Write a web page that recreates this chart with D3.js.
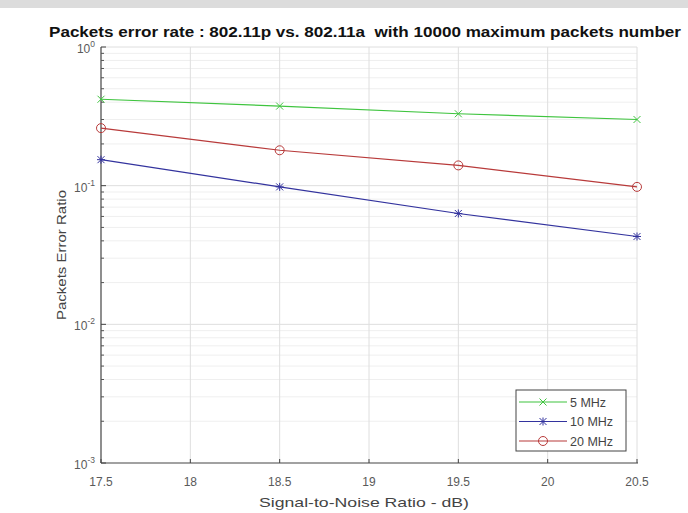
<!DOCTYPE html>
<html>
<head>
<meta charset="UTF-8">
<script src="https://d3js.org/d3.v7.min.js"></script>
<style>
  body { margin: 0; background: #fff; }
  svg { display: block; font-family: "Liberation Sans", Arial, sans-serif; }
</style>
</head>
<body>
<div id="chart"></div>
<script>
// data
const snr = [17.5, 18.5, 19.5, 20.5];
const per5 = [0.42, 0.375, 0.33, 0.30];
const per10 = [0.154, 0.098, 0.063, 0.043];
const per20 = [0.26, 0.18, 0.14, 0.098];
const seriesNames = ["5 MHz", "10 MHz", "20 MHz"];
const xTicks = [17.5, 18, 18.5, 19, 19.5, 20, 20.5];
const yTicks = [-3, -2, -1, 0];

const W = 688, H = 513;
const pLeft = 101, pRight = 637, pTop = 47, pBottom = 463;

const svg = d3.select("#chart").append("svg")
  .attr("width", W).attr("height", H);

// gray band at the very top of the screenshot
svg.append("rect").attr("x", 0).attr("y", 0).attr("width", W).attr("height", 8).attr("fill", "#dcdcdc");

const x = d3.scaleLinear().domain([17.5, 20.5]).range([pLeft, pRight]);
const y = d3.scaleLog().domain([1e-3, 1]).range([pBottom, pTop]);

// minor grid (log)
const minor = [];
for (let k = -3; k < 0; k++) {
  for (let m = 2; m <= 9; m++) minor.push(m * Math.pow(10, k));
}
svg.append("g").selectAll("line").data(minor).join("line")
  .attr("x1", pLeft).attr("x2", pRight)
  .attr("y1", d => y(d)).attr("y2", d => y(d))
  .attr("stroke", "#efefef").attr("stroke-width", 1);

// major grid
svg.append("g").selectAll("line").data(yTicks.slice(1)).join("line")
  .attr("x1", pLeft).attr("x2", pRight)
  .attr("y1", d => y(Math.pow(10, d))).attr("y2", d => y(Math.pow(10, d)))
  .attr("stroke", "#dedede");
svg.append("g").selectAll("line").data(xTicks.slice(1)).join("line")
  .attr("x1", d => x(d)).attr("x2", d => x(d))
  .attr("y1", pTop).attr("y2", pBottom)
  .attr("stroke", "#dedede");

// axes lines
svg.append("line").attr("x1", pLeft).attr("x2", pRight + 1).attr("y1", pBottom).attr("y2", pBottom)
  .attr("stroke", "#444").attr("stroke-width", 1.2);
svg.append("line").attr("x1", pLeft).attr("x2", pLeft).attr("y1", pTop).attr("y2", pBottom)
  .attr("stroke", "#444").attr("stroke-width", 1.2);

// x ticks (inward) and labels
const xg = svg.append("g");
xg.selectAll("line").data(xTicks).join("line")
  .attr("x1", d => x(d)).attr("x2", d => x(d))
  .attr("y1", pBottom).attr("y2", pBottom - 4)
  .attr("stroke", "#444");
xg.selectAll("text").data(xTicks).join("text")
  .attr("x", d => x(d)).attr("y", pBottom + 23)
  .attr("text-anchor", "middle").attr("font-size", 12).attr("fill", "#5a5a5a")
  .text(d => d3.format("")(d));

// y ticks
const yg = svg.append("g");
yg.selectAll("line.maj").data(yTicks).join("line").attr("class", "maj")
  .attr("x1", pLeft).attr("x2", pLeft + 5)
  .attr("y1", d => y(Math.pow(10, d))).attr("y2", d => y(Math.pow(10, d)))
  .attr("stroke", "#444");
yg.selectAll("line.min").data(minor).join("line").attr("class", "min")
  .attr("x1", pLeft).attr("x2", pLeft + 3)
  .attr("y1", d => y(d)).attr("y2", d => y(d))
  .attr("stroke", "#555");
const yl = yg.selectAll("text").data(yTicks).join("text")
  .attr("x", pLeft - 6).attr("y", d => y(Math.pow(10, d)) + 6)
  .attr("text-anchor", "end").attr("font-size", 12).attr("fill", "#5a5a5a");
yl.append("tspan").text("10");
yl.append("tspan").attr("dy", -6).attr("font-size", 8.5).text(d => d);

// lines
const line = d3.line().x(d => x(d[0])).y(d => y(d[1]));
const colors = ["#3fc43f", "#33339e", "#b83a3a"];
const data = [per5, per10, per20].map(v => snr.map((s, i) => [s, v[i]]));
const markers = ["x", "star", "circle"];

function drawMarker(g, type, cx, cy, col) {
  if (type === "circle") {
    g.append("circle").attr("cx", cx).attr("cy", cy).attr("r", 4.5)
      .attr("fill", "none").attr("stroke", col).attr("stroke-width", 1);
  } else {
    const s = 3.5;
    g.append("path").attr("d", `M${cx - s},${cy - s}L${cx + s},${cy + s}M${cx - s},${cy + s}L${cx + s},${cy - s}`)
      .attr("stroke", col).attr("stroke-width", 1);
    if (type === "star") {
      g.append("path").attr("d", `M${cx - 4},${cy}L${cx + 4},${cy}M${cx},${cy - 4}L${cx},${cy + 4}`)
        .attr("stroke", col).attr("stroke-width", 1);
    }
  }
}

data.forEach((d, i) => {
  const g = svg.append("g");
  g.append("path").datum(d).attr("d", line)
    .attr("fill", "none").attr("stroke", colors[i]).attr("stroke-width", 1.2);
  d.forEach(p => drawMarker(g, markers[i], x(p[0]), y(p[1]), colors[i]));
});

// legend
const lg = svg.append("g");
lg.append("rect").attr("x", 516).attr("y", 390).attr("width", 110).attr("height", 61)
  .attr("fill", "#fff").attr("stroke", "#444").attr("stroke-width", 1);
seriesNames.forEach((n, i) => {
  const ly = 402 + i * 19.5;
  lg.append("line").attr("x1", 519).attr("x2", 567).attr("y1", ly).attr("y2", ly)
    .attr("stroke", colors[i]).attr("stroke-width", 1.2);
  drawMarker(lg, markers[i], 543, ly, colors[i]);
  lg.append("text").attr("x", 570).attr("y", ly + 4.5).attr("font-size", 12.5).attr("fill", "#444").text(n);
});

// title and axis labels
svg.append("text").attr("x", 365).attr("y", 37)
  .attr("text-anchor", "middle").attr("font-size", 14).attr("font-weight", "bold").attr("fill", "#111")
  .attr("textLength", 632).attr("lengthAdjust", "spacingAndGlyphs")
  .style("white-space", "pre")
  .text("Packets error rate : 802.11p vs. 802.11a  with 10000 maximum packets number");
svg.append("text").attr("x", 364).attr("y", 507)
  .attr("text-anchor", "middle").attr("font-size", 13.5).attr("fill", "#444")
  .attr("textLength", 210).attr("lengthAdjust", "spacingAndGlyphs")
  .text("Signal-to-Noise Ratio - dB)");
svg.append("text").attr("transform", `translate(66,${(pTop + pBottom) / 2}) rotate(-90)`)
  .attr("text-anchor", "middle").attr("font-size", 13.5).attr("fill", "#444")
  .attr("textLength", 130).attr("lengthAdjust", "spacingAndGlyphs")
  .text("Packets Error Ratio");
</script>
</body>
</html>
